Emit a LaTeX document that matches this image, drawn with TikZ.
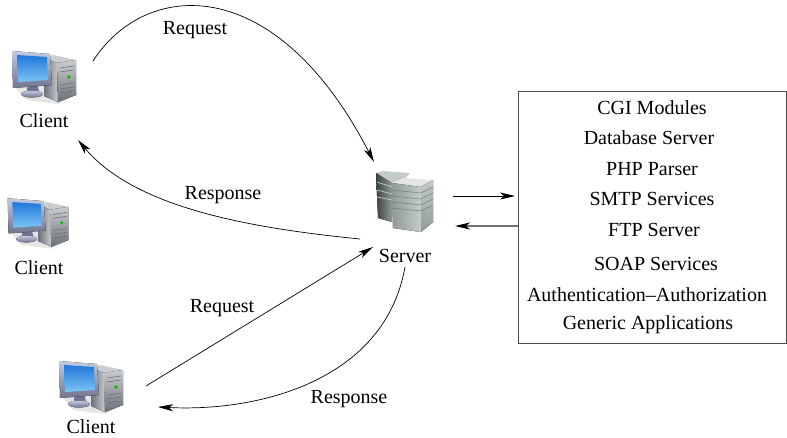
\documentclass[tikz,border=0pt]{standalone}
\usepackage{fontspec}
\setmainfont{Liberation Serif}
\usepackage{tikz}
\usetikzlibrary{arrows.meta, positioning}

\definecolor{screentop}{HTML}{1F78DC}
\definecolor{screenlow}{HTML}{7CC4F4}
\definecolor{framelight}{HTML}{C4CADF}
\definecolor{framedark}{HTML}{6F7590}
\definecolor{towerlight}{HTML}{C9CDCF}
\definecolor{towerdark}{HTML}{6C7078}
\definecolor{rackdark}{HTML}{3C4240}
\definecolor{rackmid}{HTML}{8F9A96}
\definecolor{racklight}{HTML}{C3CCC8}

\tikzset{
  pics/computer/.style={code={
    % soft shadow
    \fill[black!10] (-28,12) -- (10,8) -- (34,18) -- (14,28) -- (-18,24) -- cycle;
    % tower
    \fill[towerlight] (0,-18) -- (9,-21) -- (32,-16) -- (13,-13) -- cycle;
    \fill[left color=towerdark, right color=towerlight] (0,-18) -- (13,-13) -- (14,26) -- (0,20) -- cycle;
    \fill[top color=towerlight, bottom color=towerdark] (13,-13) -- (32,-16) -- (32,19) -- (14,26) -- cycle;
    \draw[towerdark, line width=.6] (16,-8) -- (30,-10) (16,-4) -- (30,-6) (16,9) -- (30,7) (16,13) -- (30,11) (16,17) -- (30,15);
    \fill[green!75!black] (25,1) circle (1.8);
    % monitor
    \fill[framedark] (-17,10) -- (-6,10) -- (-5,16) -- (-17,17) -- cycle;
    \fill[top color=framelight, bottom color=framedark] (-12,18) ellipse (11 and 3.5);
    \fill[top color=framelight, bottom color=framedark] (-32,-25) -- (6,-22) -- (8,9) -- (-31,12) -- cycle;
    \shade[top color=screentop, bottom color=screenlow] (-27,-21) -- (3,-19) -- (4,4) -- (-26,6) -- cycle;
  }},
  pics/rack/.style={code={
    % back tower
    \fill[racklight] (-28,-29) -- (-21,-31) -- (6,-29) -- (1,-24) -- (-12,-19) -- cycle;
    \fill[left color=rackdark, right color=rackmid] (-28,-29) -- (-12,-19) -- (-12,20) -- (-26,16) -- cycle;
    \draw[racklight, line width=.7] (-27,-20) -- (-12,-15) (-27,-12) -- (-12,-8) (-27,-5) -- (-12,-2);
    % front tower
    \fill[black!10] (-12,-19) -- (1,-24) -- (29,-22) -- (17,-15) -- cycle;
    \fill[left color=rackmid, right color=racklight] (-12,-19) -- (17,-15) -- (17,30) -- (-11,26) -- cycle;
    \fill[top color=racklight, bottom color=rackmid] (17,-15) -- (29,-22) -- (29,20) -- (17,30) -- cycle;
    \draw[rackdark!70, line width=.5] (-12,-12) -- (17,-9) -- (29,-15) (-12,-6) -- (17,-3) -- (29,-9) (-12,0) -- (17,3) -- (29,-3) (-12,6) -- (17,9) -- (29,3);
  }}
}

\begin{document}
\begin{tikzpicture}[
  x=1pt, y=-1pt,
  node distance=1pt and 1pt,
  icon/.style={minimum width=70, minimum height=56, inner sep=0},
  label/.style={font=\fontsize{20}{24}\selectfont, inner sep=0},
  arrow/.style={-{Stealth[length=15, width=7, inset=4, color=black]}, line width=.7},
  box/.style={draw=black!70, line width=1, minimum width=268, minimum height=252, inner sep=0}
]
\useasboundingbox (0,0) rectangle (787,437);

% Clients
\node[icon] (clientA) at (44,76) {};
\pic at (clientA) {computer};
\node[label] (clientAlabel) at (44,121) {Client};

\node[icon] (clientB) at (38,222) {};
\pic[scale=.95] at (clientB) {computer};
\node[label] (clientBlabel) at (39,268) {Client};

\node[icon] (clientC) at (91,386) {};
\pic at (clientC) {computer};
\node[label] (clientClabel) at (91,427) {Client};

% Server
\node[icon, minimum width=98, minimum height=60] (server) at (404,202) {};
\pic at (server) {rack};
\node[label] (serverlabel) at (405,256) {Server};

% Services
\node[box] (services) at (652.5,217.5) {};
\node[label] (cgi) at (652,108) {CGI Modules};
\node[label] (database) at (649,138) {Database Server};
\node[label] (php) at (652,169) {PHP Parser};
\node[label] (smtp) at (652,199) {SMTP Services};
\node[label] (ftp) at (654,230) {FTP Server};
\node[label] (soap) at (656,264) {SOAP Services};
\node[label] (auth) at (647,295) {Authentication--Authorization};
\node[label] (generic) at (648,325) {Generic Applications};

% Free ends of the arrows
\coordinate (clientAout) at ([shift={(49,-15)}]clientA.center);
\coordinate (clientAin) at ([shift={(34,19)}]clientAlabel.center);
\coordinate (clientCout) at ([shift={(55,0)}]clientC.center);
\coordinate (clientCin) at ([shift={(67,-20)}]clientClabel.center);
\coordinate (serverAin) at ([shift={(-30,-40)}]server.center);
\coordinate (serverAout) at ([shift={(-44,37)}]server.center);
\coordinate (serverBin) at ([shift={(-32,-9)}]serverlabel.center);
\coordinate (serverBout) at ([shift={(0,11)}]serverlabel.center);
\coordinate (serverCout) at ([shift={(49,-6)}]server.center);
\coordinate (serverCin) at ([shift={(51,24)}]server.center);
\coordinate (servicesin) at ([shift={(-3,-21.5)}]services.west);
\coordinate (servicesout) at ([shift={(0,8.5)}]services.west);

% Arrows
\draw[arrow] (clientAout) .. controls (145,-20) and (275,-30) .. (serverAin);
\draw[arrow] (serverAout) .. controls (250,228) and (135,208) .. (clientAin);
\draw[arrow] (clientCout) -- (serverBin);
\draw[arrow] (serverBout) .. controls (385,380) and (260,412) .. (clientCin);
\draw[arrow] (serverCout) -- (servicesin);
\draw[arrow, draw=black!55, line width=1.2] (servicesout) -- (serverCin);

% Arrow labels
\node[label] (reqA) at (195,30) {Request};
\node[label] (respA) at (223,195) {Response};
\node[label] (reqB) at (222,308) {Request};
\node[label] (respB) at (349,399) {Response};

\end{tikzpicture}
\end{document}
